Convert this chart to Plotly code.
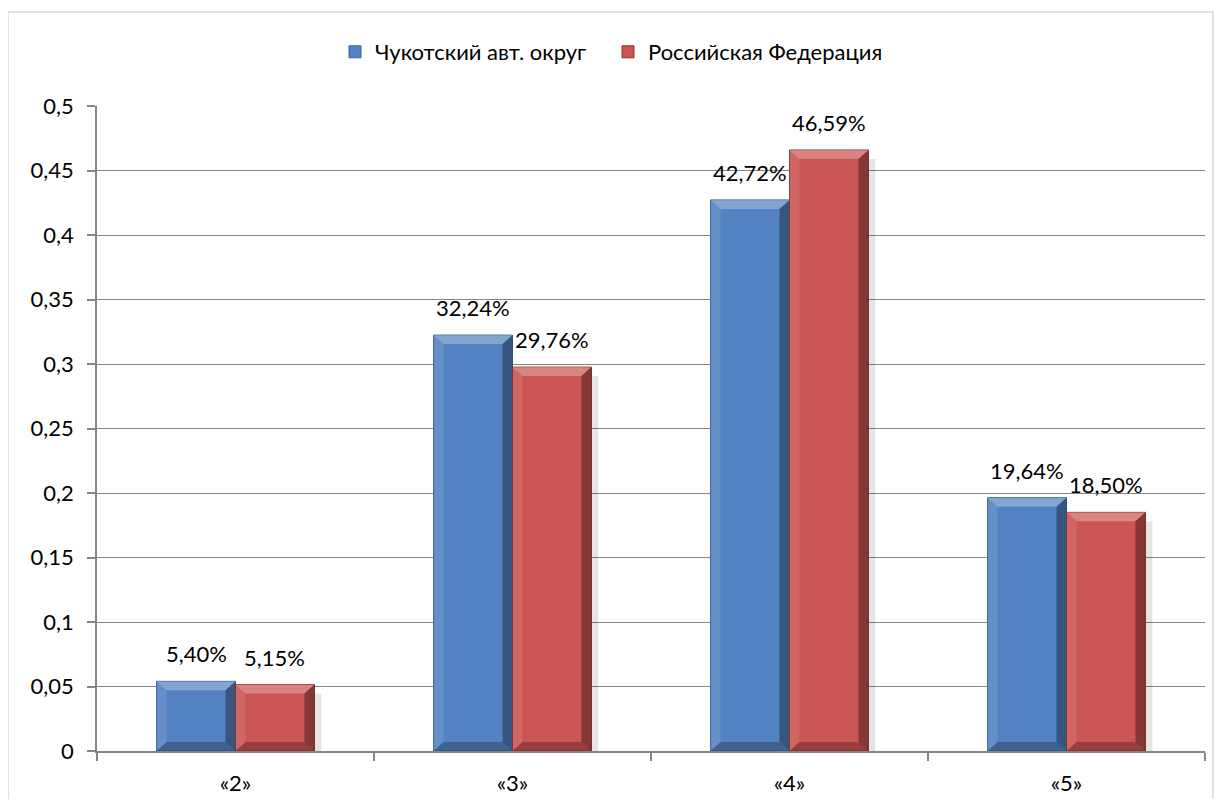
import plotly.graph_objects as go

categories = ["«2»", "«3»", "«4»", "«5»"]
chukotka = [0.0540, 0.3224, 0.4272, 0.1964]
russia = [0.0515, 0.2976, 0.4659, 0.1850]
series_names = ["Чукотский авт. округ", "Российская Федерация"]
y_tick_vals = [0, 0.05, 0.1, 0.15, 0.2, 0.25, 0.3, 0.35, 0.4, 0.45, 0.5]
y_tick_text = ["0", "0,05", "0,1", "0,15", "0,2", "0,25", "0,3", "0,35", "0,4", "0,45", "0,5"]

# page body has an 8px margin, so the figure is sized/offset to fit the window
PAGE_OFF = 8
W, H = 1222 - 2 * PAGE_OFF, 807 - 2 * PAGE_OFF
ML, MT = 97 - PAGE_OFF, 106 - PAGE_OFF
PW, PH = 1108, 645
MR, MB = W - ML - PW, H - MT - PH
YMAX = 0.5
BARGAP = 0.43
BARW = (1 - BARGAP) / 2

def pct(v):
    return f"{v*100:.2f}%".replace(".", ",")

FONT = "Lato, 'Open Sans', sans-serif"
FS = 22
xs = list(range(len(categories)))

fig = go.Figure()
series = [
    (chukotka, series_names[0], "#5383C3", "#3A6194", -BARW / 2),
    (russia, series_names[1], "#CB5552", "#8E3432", BARW / 2),
]
for vals, name, col, lcol, off in series:
    fig.add_trace(go.Bar(
        x=xs, y=vals, name=name, offsetgroup=name,
        marker=dict(color=col, line=dict(color=lcol, width=1)),
        hovertemplate="%{y}<extra>" + name + "</extra>",
    ))

shapes = []
annotations = []
npx = len(categories)
dx = 10 * npx / PW           # 10 px in x data units
dy = 9 * YMAX / PH           # 9 px in y data units
sx = 7 * npx / PW
for si, (vals, name, col, lcol, off) in enumerate(series):
    for i, v in enumerate(vals):
        c = xs[i] + off
        x0, x1 = c - BARW / 2, c + BARW / 2
        if si == 1:
            shapes.append(dict(type="rect", xref="x", yref="y", x0=x1, x1=x1 + sx,
                               y0=0, y1=v - dy, line=dict(width=0),
                               fillcolor="rgba(0,0,0,0.10)", layer="between"))
        facets = [
            (f"M {x0},{v} L {x1},{v} L {x1-dx},{v-dy} L {x0+dx},{v-dy} Z", "rgba(255,255,255,0.28)"),
            (f"M {x0},0 L {x0},{v} L {x0+dx},{v-dy} L {x0+dx},{dy} Z", "rgba(255,255,255,0.10)"),
            (f"M {x1},0 L {x1},{v} L {x1-dx},{v-dy} L {x1-dx},{dy} Z", "rgba(0,0,0,0.35)"),
            (f"M {x0},0 L {x1},0 L {x1-dx},{dy} L {x0+dx},{dy} Z", "rgba(0,0,0,0.25)"),
        ]
        for p, fc in facets:
            shapes.append(dict(type="path", xref="x", yref="y", path=p,
                               fillcolor=fc, line=dict(width=0), layer="above"))
        annotations.append(dict(x=c, y=v, xref="x", yref="y", text=pct(v),
                                showarrow=False, yanchor="bottom", yshift=12,
                                font=dict(size=FS, color="#000000")))

# chart border (page coords x 8..1213, y 12..beyond bottom)
shapes.append(dict(type="rect", xref="paper", yref="paper",
                   x0=(8 - PAGE_OFF - ML) / PW, x1=(1213 - PAGE_OFF - ML) / PW,
                   y0=(MT + PH - 830) / PH, y1=(MT + PH - (12 - PAGE_OFF)) / PH,
                   line=dict(color="#D9D9D9", width=1.5), fillcolor="rgba(0,0,0,0)", layer="below"))

fig.update_layout(
    width=W, height=H,
    margin=dict(l=ML, r=MR, t=MT, b=MB, autoexpand=False),
    paper_bgcolor="white", plot_bgcolor="white",
    font=dict(family=FONT, size=FS, color="#000000"),
    separators=", ",
    barmode="group", bargap=BARGAP, bargroupgap=0,
    showlegend=True,
    legend=dict(orientation="h", x=(335 - PAGE_OFF - ML) / PW, xanchor="left",
                yref="container", y=1 - (52 - PAGE_OFF) / H, yanchor="middle",
                font=dict(size=FS), traceorder="normal", itemwidth=30,
                entrywidth=228, entrywidthmode="pixels"),
    xaxis=dict(range=[-0.5, len(categories) - 0.5], tickvals=xs, ticktext=categories,
               ticks="", showline=True, linecolor="#868686", linewidth=1.5,
               showgrid=False, zeroline=False, automargin=False,
               ticklabelstandoff=12, tickfont=dict(size=FS),
               minor=dict(tickvals=[x - 0.5 for x in xs] + [len(categories) - 0.5],
                          ticks="outside", ticklen=8, tickcolor="#868686", tickwidth=1.5,
                          showgrid=False)),
    yaxis=dict(range=[0, YMAX], tickvals=y_tick_vals, ticktext=y_tick_text,
               showline=True, linecolor="#868686", linewidth=1.5, ticks="outside",
               ticklen=8, tickcolor="#868686", tickwidth=1.5, automargin=False,
               showgrid=True, gridcolor="#868686", gridwidth=1, zeroline=False,
               ticklabelstandoff=9, tickfont=dict(size=FS)),
    shapes=shapes,
    annotations=annotations,
)
fig.write_html("out.html")
